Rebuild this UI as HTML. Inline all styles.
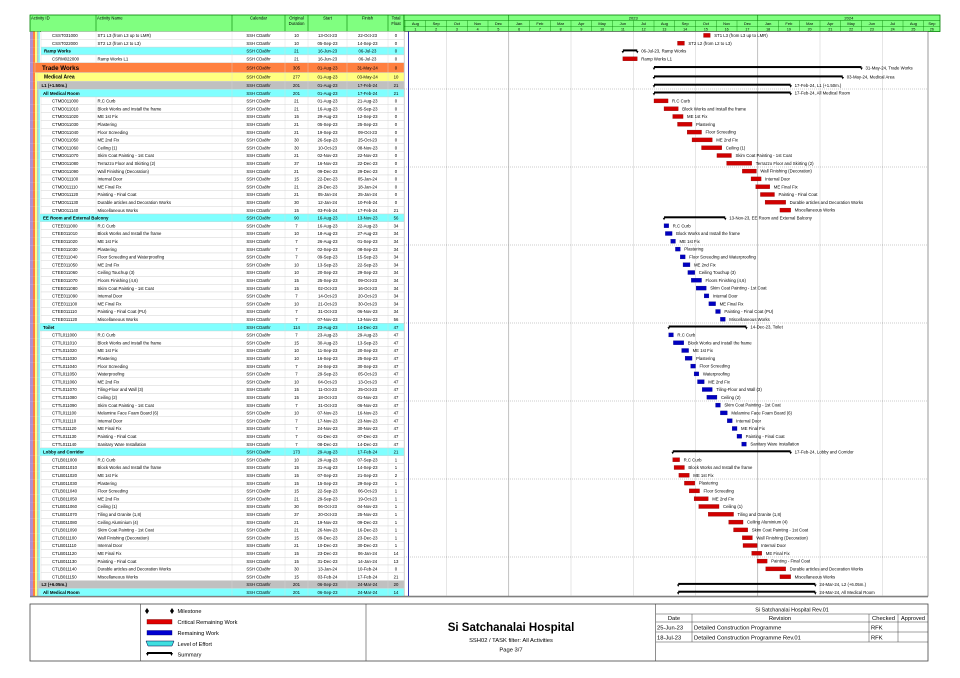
<!DOCTYPE html>
<html><head><meta charset="utf-8"><title>Si Satchanalai Hospital - Gantt</title>
<style>
html,body{margin:0;padding:0;background:#fff;}
svg{display:block;font-family:"Liberation Sans",Arial,sans-serif;}
</style></head>
<body>
<svg id="chart" width="960" height="678" viewBox="0 0 960 678" xmlns="http://www.w3.org/2000/svg"></svg>
<script>
// ---- data arrays ----
const rowIds = ["CSST031000","CSST022000","Ramp Works","CSRM022000","Trade Works","Medical Area","L1 (+1.50m.)","All Medical Room",
"CTMD011000","CTMD011010","CTMD011020","CTMD011030","CTMD011040","CTMD011050","CTMD011060","CTMD011070","CTMD011080","CTMD011090","CTMD011100","CTMD011110","CTMD011120","CTMD011130","CTMD011140",
"EE Room and External Balcony",
"CTEE011000","CTEE011010","CTEE011020","CTEE011030","CTEE011040","CTEE011050","CTEE011060","CTEE011070","CTEE011080","CTEE011090","CTEE011100","CTEE011110","CTEE011120",
"Toilet",
"CTTL011000","CTTL011010","CTTL011020","CTTL011030","CTTL011040","CTTL011050","CTTL011060","CTTL011070","CTTL011080","CTTL011090","CTTL011100","CTTL011110","CTTL011120","CTTL011130","CTTL011140",
"Lobby and Corridor",
"CTLB011000","CTLB011010","CTLB011020","CTLB011030","CTLB011040","CTLB011050","CTLB011060","CTLB011070","CTLB011080","CTLB011090","CTLB011100","CTLB011110","CTLB011120","CTLB011130","CTLB011140","CTLB011150",
"L2 (+6.05m.)","All Medical Room"];
const rowKinds = ["t","t","ramp","t","trade","med","lvl","room",
"t","t","t","t","t","t","t","t","t","t","t","t","t","t","t","room",
"t","t","t","t","t","t","t","t","t","t","t","t","t","room",
"t","t","t","t","t","t","t","t","t","t","t","t","t","t","t","room",
"t","t","t","t","t","t","t","t","t","t","t","t","t","t","t","t","lvl","room"];
const rowNames = ["ST1 L3 (from L3 up to LMR)","ST2 L2 (from L2 to L3)","","Ramp Works L1","","","","",
"R.C Curb","Block Works and Install the frame","ME 1st Fix","Plastering","Floor Screeding","ME 2nd Fix","Ceiling (1)","Skim Coat Painting - 1st Coat","Terrazzo Floor and Skirting (2)","Wall Finishing (Decoration)","Internal Door","ME Final Fix","Painting - Final Coat","Durable articles and Decoration Works","Miscellaneous Works","",
"R.C Curb","Block Works and Install the frame","ME 1st Fix","Plastering","Floor Screeding and Waterproofing","ME 2nd Fix","Ceiling Touchup (3)","Floors Finishing (4,6)","Skim Coat Painting - 1st Coat","Internal Door","ME Final Fix","Painting - Final Coat (PU)","Miscellaneous Works","",
"R.C Curb","Block Works and Install the frame","ME 1st Fix","Plastering","Floor Screeding","Waterproofing","ME 2nd Fix","Tiling-Floor and Wall (3)","Ceiling (2)","Skim Coat Painting - 1st Coat","Melamine Face Foam Board (6)","Internal Door","ME Final Fix","Painting - Final Coat","Sanitary Ware Installation","",
"R.C Curb","Block Works and Install the frame","ME 1st Fix","Plastering","Floor Screeding","ME 2nd Fix","Ceiling (1)","Tiling and Granite (1,8)","Ceiling Aluminium (4)","Skim Coat Painting - 1st Coat","Wall Finishing (Decoration)","Internal Door","ME Final Fix","Painting - Final Coat","Durable articles and Decoration Works","Miscellaneous Works","",""];
const durations = [10,10,21,21,305,277,201,201,
21,21,15,21,21,30,30,21,37,21,15,21,21,30,15,90,
7,10,7,7,7,10,10,15,15,7,10,7,7,114,
7,15,10,10,7,7,10,15,15,7,10,7,7,7,7,173,
10,15,15,15,15,21,30,37,21,21,15,21,15,15,30,15,201,201];
const starts = ["13-Oct-23","05-Sep-23","16-Jun-23","16-Jun-23","01-Aug-23","01-Aug-23","01-Aug-23","01-Aug-23",
"01-Aug-23","16-Aug-23","29-Aug-23","05-Sep-23","19-Sep-23","26-Sep-23","10-Oct-23","02-Nov-23","16-Nov-23","09-Dec-23","22-Dec-23","29-Dec-23","05-Jan-24","12-Jan-24","03-Feb-24","16-Aug-23",
"16-Aug-23","18-Aug-23","26-Aug-23","02-Sep-23","09-Sep-23","13-Sep-23","20-Sep-23","25-Sep-23","02-Oct-23","14-Oct-23","21-Oct-23","31-Oct-23","07-Nov-23","23-Aug-23",
"23-Aug-23","30-Aug-23","11-Sep-23","16-Sep-23","24-Sep-23","29-Sep-23","04-Oct-23","11-Oct-23","18-Oct-23","31-Oct-23","07-Nov-23","17-Nov-23","24-Nov-23","01-Dec-23","08-Dec-23","29-Aug-23",
"29-Aug-23","31-Aug-23","07-Sep-23","15-Sep-23","22-Sep-23","29-Sep-23","06-Oct-23","20-Oct-23","19-Nov-23","26-Nov-23","09-Dec-23","10-Dec-23","23-Dec-23","31-Dec-23","13-Jan-24","03-Feb-24","06-Sep-23","06-Sep-23"];
const finishes = ["22-Oct-23","14-Sep-23","06-Jul-23","06-Jul-23","31-May-24","03-May-24","17-Feb-24","17-Feb-24",
"21-Aug-23","05-Sep-23","12-Sep-23","25-Sep-23","09-Oct-23","25-Oct-23","08-Nov-23","22-Nov-23","22-Dec-23","29-Dec-23","05-Jan-24","18-Jan-24","25-Jan-24","10-Feb-24","17-Feb-24","13-Nov-23",
"22-Aug-23","27-Aug-23","01-Sep-23","08-Sep-23","15-Sep-23","22-Sep-23","29-Sep-23","09-Oct-23","16-Oct-23","20-Oct-23","30-Oct-23","06-Nov-23","13-Nov-23","14-Dec-23",
"29-Aug-23","13-Sep-23","20-Sep-23","25-Sep-23","30-Sep-23","05-Oct-23","13-Oct-23","25-Oct-23","01-Nov-23","06-Nov-23","16-Nov-23","23-Nov-23","30-Nov-23","07-Dec-23","14-Dec-23","17-Feb-24",
"07-Sep-23","14-Sep-23","21-Sep-23","29-Sep-23","06-Oct-23","19-Oct-23","04-Nov-23","25-Nov-23","09-Dec-23","16-Dec-23","23-Dec-23","30-Dec-23","06-Jan-24","14-Jan-24","10-Feb-24","17-Feb-24","24-Mar-24","24-Mar-24"];
const floats = [0,0,0,0,0,10,21,21,
0,0,0,0,0,0,0,0,0,0,0,0,0,0,21,56,
34,34,34,34,34,34,34,34,34,34,34,34,56,47,
47,47,47,47,47,47,47,47,47,47,47,47,47,47,47,21,
1,1,2,1,1,1,1,1,1,1,1,1,14,13,0,21,20,14];
const monthLabels = ["Aug","Sep","Oct","Nov","Dec","Jan","Feb","Mar","Apr","May","Jun","Jul","Aug","Sep","Oct","Nov","Dec","Jan","Feb","Mar","Apr","May","Jun","Jul","Aug","Sep"];
const yearLabels = ["2023","2024"];

// ---- layout ----
const NS="http://www.w3.org/2000/svg";
const svg=document.getElementById('chart');
function mk(tag,attrs,parent){const e=document.createElementNS(NS,tag);for(const k in attrs)e.setAttribute(k,attrs[k]);(parent||svg).appendChild(e);return e;}
function txt(x,y,s,attrs,parent){const e=mk('text',Object.assign({x:x,y:y,'font-size':5,fill:'#000'},attrs||{}),parent);e.textContent=s;return e;}
const G0=405, MW=20.75, GRIGHT=928;
const MON={Jan:0,Feb:1,Mar:2,Apr:3,May:4,Jun:5,Jul:6,Aug:7,Sep:8,Oct:9,Nov:10,Dec:11};
function xDate(s,end){const p=s.split('-');let d=+p[0],m=MON[p[1]],y=2000+(+p[2]);const dim=new Date(y,m+1,0).getDate();let frac=(d-1+(end?1:0))/dim;return G0+((y-2022)*12+m-7+frac)*MW;}

// header
const hdr=mk('g',{});  
mk('rect',{x:30,y:15,width:374,height:16.5,fill:'#80ff80',stroke:'#008000','stroke-width':0.8},hdr);
const cols=[30,96,232,285,308,347,388,404];
const colTitles=[["Activity ID"],["Activity Name"],["Calendar"],["Original","Duration"],["Start"],["Finish"],["Total","Float"]];
for(let i=0;i<7;i++){
  if(i>0)mk('line',{x1:cols[i],y1:15,x2:cols[i],y2:31.5,stroke:'#008000','stroke-width':0.6},hdr);
  const lines=colTitles[i];
  lines.forEach((l,j)=>{txt(i<2?cols[i]+1:(cols[i]+cols[i+1])/2,19.5+j*5.5,l,{'font-size':4.2,'text-anchor':i<2?'start':'middle'},hdr);});
}
// gantt header
const gh=mk('g',{});  
mk('rect',{x:404,y:15,width:536,height:16.5,fill:'#80ff80',stroke:'#008000','stroke-width':0.8},gh);
mk('line',{x1:404,y1:20.5,x2:940,y2:20.5,stroke:'#008000','stroke-width':0.5},gh);
mk('line',{x1:404,y1:26.5,x2:940,y2:26.5,stroke:'#008000','stroke-width':0.4},gh);
const jan23=G0+5*MW, jan24=G0+17*MW;
mk('line',{x1:jan23,y1:15,x2:jan23,y2:20.5,stroke:'#008000','stroke-width':0.6},gh);
mk('line',{x1:jan24,y1:15,x2:jan24,y2:20.5,stroke:'#008000','stroke-width':0.6},gh);
txt((jan23+jan24)/2,19.5,yearLabels[0],{'font-size':4,'text-anchor':'middle'},gh);
txt((jan24+940)/2,19.5,yearLabels[1],{'font-size':4,'text-anchor':'middle'},gh);
for(let i=0;i<monthLabels.length;i++){
  const x=G0+i*MW, x2=Math.min(x+MW,940);
  if(x>=940)break;
  mk('line',{x1:x,y1:20.5,x2:x,y2:31.5,stroke:'#008000','stroke-width':0.4},gh);
  const mt=txt((x+x2)/2,25.2,monthLabels[i],{'font-size':4,'text-anchor':'middle'},gh);
  
  txt((x+x2)/2,30.6,String(i+1),{'font-size':3.6,'text-anchor':'middle'},gh);
}

// rows geometry
const rowTop=[], rowH=[]; let yy=31.5;
rowKinds.forEach(k=>{const h=k==='trade'?9.9:(k==='med'?8.8:7.8);rowTop.push(yy);rowH.push(h);yy+=h;});
const tableBottom=yy;

// gantt body
const body=mk('g',{});  
mk('rect',{x:404,y:31.5,width:GRIGHT-404,height:tableBottom-31.5,fill:'#fff',stroke:'#555','stroke-width':0.6},body);
for(let i=1;i<25;i++){
  const x=G0+i*MW; if(x>GRIGHT)break;
  const m=(i+7)%12;
  if(m===0) mk('line',{x1:x,y1:31.5,x2:x,y2:tableBottom,stroke:'#999','stroke-width':0.6},body);
  else if(m%3===0) mk('line',{x1:x,y1:31.5,x2:x,y2:tableBottom,stroke:'#999','stroke-width':0.5,'stroke-dasharray':'1,1'},body);
}
for(let yv=89;yv<tableBottom;yv+=78) mk('line',{x1:404,y1:yv,x2:GRIGHT,y2:yv,stroke:'#999','stroke-width':0.5,'stroke-dasharray':'1,1'},body);
const dd=mk('line',{x1:408.5,y1:31.5,x2:408.5,y2:tableBottom,stroke:'#0000a0','stroke-width':0.8},body);



// table rows
const tbl=mk('g',{});  
const kindFill={trade:'#ff8040',med:'#ffff80',lvl:'#c0c0c0',room:'#80ffff',ramp:'#80ffff',t:'#ffffff'};
const kindX={trade:35,med:37,lvl:38.5,room:40,ramp:41,t:41};
const stripes=[['#b090d0',30,33],['#ff8040',33,35],['#ffff80',35,37],['#c0c0c0',37,38.5],['#80ffff',38.5,40]];
for(let i=0;i<rowKinds.length;i++){
  const k=rowKinds[i], y=rowTop[i], h=rowH[i], cy=y+h/2+1.7;
  const g=mk('g',{},tbl);
  
  
  stripes.forEach(s=>{ if(s[1]<kindX[k]) mk('rect',{x:s[1],y:y,width:Math.min(s[2],kindX[k])-s[1],height:h,fill:s[0]},g);});
  mk('rect',{x:kindX[k],y:y,width:404-kindX[k],height:h,fill:kindFill[k],stroke:'#d0d0d0','stroke-width':0.4},g);
  if(k==='t'){
    for(let c=1;c<7;c++) mk('line',{x1:cols[c],y1:y,x2:cols[c],y2:y+h,stroke:'#d8d8d8','stroke-width':0.4},g);
    txt(52,cy,rowIds[i],{'font-size':4.3},g);
    txt(97.5,cy,rowNames[i],{'font-size':4.3},g);
  } else {
    const fs=k==='trade'?6.2:(k==='med'?5:4.4);
    txt(kindX[k]+ (k==='trade'?7:(k==='med'?7:3)),cy+(k==='trade'?0.5:0),rowIds[i],{'font-size':fs,'font-weight':'bold'},g);
    for(let c=2;c<7;c++) mk('line',{x1:cols[c],y1:y,x2:cols[c],y2:y+h,stroke:'#d8d8d8','stroke-width':0.4},g);
  }
  txt(258.5,cy,'SSH CDa8hr',{'font-size':4.2,'text-anchor':'middle'},g);
  txt(296.5,cy,String(durations[i]),{'font-size':4.3,'text-anchor':'middle'},g);
  txt(327.5,cy,starts[i],{'font-size':4.3,'text-anchor':'middle'},g);
  txt(367.5,cy,finishes[i],{'font-size':4.3,'text-anchor':'middle'},g);
  txt(396,cy,String(floats[i]),{'font-size':4.3,'text-anchor':'middle'},g);

  // gantt mark
  const x1=xDate(starts[i],false), x2=xDate(finishes[i],true), my=y+h/2;
  if(k==='t'){
    const crit=floats[i]<=21;
    const b=mk('rect',{x:x1,y:my-2,width:Math.max(x2-x1,1.5),height:4,fill:crit?'#d00000':'#0000c0',stroke:crit?'#800000':'#000080','stroke-width':0.3},body);
    
    
    txt(x2+4,my+1.6,rowNames[i],{'font-size':4.3},body);
  } else {
    const sb=mk('g',{},body);
    
    
    mk('rect',{x:x1,y:my-1.6,width:x2-x1,height:2,fill:'#000'},sb);
    mk('polygon',{points:`${x1-1.3},${my} ${x1+1.3},${my} ${x1},${my+2.4}`,fill:'#000'},sb);
    mk('polygon',{points:`${x2-1.3},${my} ${x2+1.3},${my} ${x2},${my+2.4}`,fill:'#000'},sb);
    txt(x2+4,my+1.6,finishes[i]+', '+rowIds[i],{'font-size':4.3},sb);
  }
}
mk('line',{x1:30,y1:tableBottom,x2:GRIGHT,y2:tableBottom,stroke:'#555','stroke-width':0.6});
mk('line',{x1:30,y1:597,x2:GRIGHT,y2:597,stroke:'#555','stroke-width':0.5});

// footer
const ft=mk('g',{});  
mk('rect',{x:30,y:604,width:898,height:57,fill:'none',stroke:'#444','stroke-width':0.8},ft);
mk('line',{x1:140.7,y1:604,x2:140.7,y2:661,stroke:'#444','stroke-width':0.6},ft);
mk('line',{x1:366,y1:604,x2:366,y2:661,stroke:'#444','stroke-width':0.6},ft);
mk('line',{x1:655.7,y1:604,x2:655.7,y2:661,stroke:'#444','stroke-width':0.6},ft);
const lg=mk('g',{},ft);  
mk('polygon',{points:'147,608 149,611 147,614 145,611',fill:'#000'},lg);
mk('polygon',{points:'172,608 174,611 172,614 170,611',fill:'#000'},lg);
txt(177.5,613,'Milestone',{'font-size':5.6},lg);
mk('rect',{x:147,y:619.5,width:25,height:4.5,fill:'#e00000',stroke:'#600','stroke-width':0.4},lg);
txt(177.5,624,'Critical Remaining Work',{'font-size':5.6},lg);
mk('rect',{x:147,y:630.5,width:25,height:4.5,fill:'#0000d0',stroke:'#006','stroke-width':0.4},lg);
txt(177.5,635,'Remaining Work',{'font-size':5.6},lg);
mk('polygon',{points:'146,641 174,641 172,646 148,646',fill:'#40e0e0',stroke:'#004','stroke-width':0.5},lg);
txt(177.5,646,'Level of Effort',{'font-size':5.6},lg);
mk('rect',{x:147,y:652,width:25,height:2,fill:'#000'},lg);
mk('polygon',{points:'146,653 149,653 147.5,656',fill:'#000'},lg);
mk('polygon',{points:'170,653 173,653 171.5,656',fill:'#000'},lg);
txt(177.5,656.5,'Summary',{'font-size':5.6},lg);
const tt=txt(511,631,'Si Satchanalai Hospital',{'font-size':11.5,'font-weight':'bold','text-anchor':'middle'},ft);

txt(511,642,'SSH02 / TASK filter: All Activities',{'font-size':5.8,'text-anchor':'middle'},ft);
txt(511,651.5,'Page 3/7',{'font-size':5.8,'text-anchor':'middle'},ft);
const rv=mk('g',{},ft);  
[614,622,632,642].forEach(y=>mk('line',{x1:655.7,y1:y,x2:928,y2:y,stroke:'#444','stroke-width':0.5},rv));
[692,869,898].forEach(x=>mk('line',{x1:x,y1:614,x2:x,y2:642,stroke:'#444','stroke-width':0.5},rv));
txt(792,611.5,'Si Satchanalai Hospital Rev.01',{'font-size':5.4,'text-anchor':'middle'},rv);
txt(674,620,'Date',{'font-size':5.8,'text-anchor':'middle'},rv);
txt(780,620,'Revision',{'font-size':5.8,'text-anchor':'middle'},rv);
txt(883.5,620,'Checked',{'font-size':5.8,'text-anchor':'middle'},rv);
txt(913,620,'Approved',{'font-size':5.6,'text-anchor':'middle'},rv);
txt(657,629.5,'25-Jun-23',{'font-size':5.8},rv);
txt(694,629.5,'Detailed Construction Programme',{'font-size':5.8},rv);
txt(871,629.5,'RFK',{'font-size':5.8},rv);
txt(657,639.5,'18-Jul-23',{'font-size':5.8},rv);
txt(694,639.5,'Detailed Construction Programme Rev.01',{'font-size':5.8},rv);
txt(871,639.5,'RFK',{'font-size':5.8},rv);
</script>
</body></html>
